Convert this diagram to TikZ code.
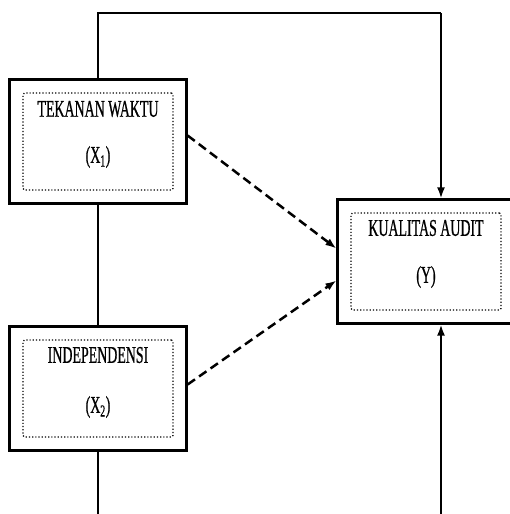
\documentclass[tikz,border=0pt]{standalone}
\usepackage{fontspec}
\newfontfamily\boxfont[FakeStretch=0.58, FakeBold=0.6]{Liberation Serif}
\usepackage{tikz}
\usetikzlibrary{calc, positioning, fit, arrows.meta}

\begin{document}
\begin{tikzpicture}[x=1pt, y=-1pt, >={Latex[length=11pt,width=8pt]},
  inbox/.style={draw, dotted, line width=1.2pt, rounded corners=1.5pt,
    minimum width=150pt, minimum height=97pt, inner sep=0pt},
  outbox/.style={draw, line width=3pt, inner sep=12.5pt},
  vartext/.style={font=\boxfont\fontsize{24}{27}\selectfont},
  link/.style={line width=2pt},
  effect/.style={->, line width=2.5pt, dash pattern=on 9pt off 5pt}]
  \useasboundingbox (0,0) rectangle (510,514);
  \node [inbox] (x1in) at (98,141.5) {};
  \node [outbox, fit=(x1in)] (x1) {};
  \node [inbox] (x2in) at (98,388.5) {};
  \node [outbox, fit=(x2in)] (x2) {};
  \node [inbox] (yin) at (426,261.5) {};
  \node [outbox, fit=(yin)] (y) {};
  \node at (98,109) [vartext] {TEKANAN WAKTU};
  \node at (98,157) [vartext] {(X\textsubscript{1})};
  \node at (98,355) [vartext] {INDEPENDENSI};
  \node at (98,407) [vartext] {(X\textsubscript{2})};
  \node at (426,228) [vartext] {KUALITAS AUDIT};
  \node at (426,277) [vartext] {(Y)};
  \coordinate (topleft) at (x1.north |- 0,13);
  \coordinate (topright) at (441,13);
  \coordinate (footleft) at (x2.south |- 0,514);
  \coordinate (footright) at (441,514);
  \draw [link] (x1.north) -- (topleft) -- (topright);
  \draw [link, ->] (topright) -- (topright |- y.north);
  \draw [link] (x1.south) -- (x2.north);
  \draw [link] (x2.south) -- (footleft);
  \draw [link, ->] (footright) -- (footright |- y.south);
  \draw [effect] ([yshift=6pt]x1.east) -- ([yshift=13pt]y.west);
  \draw [effect] ([yshift=4pt]x2.east) -- ([yshift=-19pt]y.west);
\end{tikzpicture}
\end{document}
